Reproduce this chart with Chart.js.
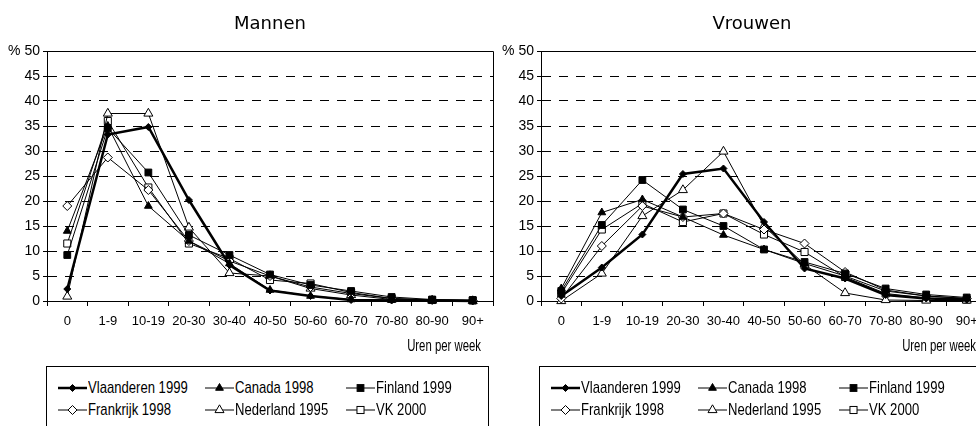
<!DOCTYPE html>
<html lang="nl">
<head>
<meta charset="UTF-8">
<title>Uren per week - Mannen en Vrouwen</title>
<script src="https://cdn.jsdelivr.net/npm/chart.js"></script>
<style>
  body { margin: 0; width: 976px; height: 426px; overflow: hidden; background: #fff; position: relative;
         font-family: 'Liberation Sans Narrow', 'Arial Narrow', 'Liberation Sans', Arial, sans-serif; color: #000; }
  .paneel { position: absolute; top: 0; width: 500px; height: 426px; }
  .paneel canvas { position: absolute; left: 0; top: 0; }
  .titel { position: absolute; top: 12px; width: 200px; text-align: center; font-family: 'DejaVu Sans', Verdana, sans-serif; font-size: 18px; }
  .as-titel { position: absolute; top: 337px; width: 200px; text-align: right; font-size: 16px; transform: scaleX(0.71); transform-origin: right center; }
  .legende { position: absolute; top: 366px; width: 443px; height: 80px; border: 1px solid #000; box-sizing: border-box; }
  .item { position: absolute; display: flex; align-items: center; font-size: 17px; white-space: nowrap; height: 20px; }
  .item svg { margin-right: 1px; }
  .item span { display: inline-block; transform: scaleX(0.77); transform-origin: left center; }
</style>
</head>
<body>
<div class="paneel" style="left:0">
  <canvas id="mannen" width="500" height="360"></canvas>
  <div class="titel" style="left:170px">Mannen</div>
  <div class="as-titel" style="left:281px">Uren per week</div>
  <div class="legende" id="legendeMannen" style="left:46px"></div>
</div>
<div class="paneel" style="left:494px">
  <canvas id="vrouwen" width="500" height="360"></canvas>
  <div class="titel" style="left:158px">Vrouwen</div>
  <div class="as-titel" style="left:282px">Uren per week</div>
  <div class="legende" id="legendeVrouwen" style="left:45px"></div>
</div>
<script>
// categorieën en reeksen
const categorieen = ['0', '1-9', '10-19', '20-30', '30-40', '40-50', '50-60', '60-70', '70-80', '80-90', '90+'];
const reeksen = ['Vlaanderen 1999', 'Canada 1998', 'Finland 1999', 'Frankrijk 1998', 'Nederland 1995', 'VK 2000'];

// Mannen (%)
const mannenVlaanderen = [2.4, 33.3, 34.8, 20.2, 7.2, 2.1, 1.0, 0.2, 0.1, 0.1, 0.0];
const mannenCanada     = [14.0, 35.0, 19.0, 12.0, 7.5, 2.2, 1.0, 0.3, 0.2, 0.1, 0.1];
const mannenFinland    = [9.2, 34.6, 25.7, 13.2, 9.2, 5.3, 3.2, 2.0, 0.8, 0.3, 0.2];
const mannenFrankrijk  = [19.0, 28.7, 22.2, 12.0, 8.0, 5.0, 2.8, 1.5, 0.5, 0.2, 0.1];
const mannenNederland  = [0.9, 37.5, 37.5, 14.7, 5.6, 5.0, 2.5, 1.2, 0.3, 0.1, 0.0];
const mannenVK         = [11.5, 36.0, 22.7, 11.5, 8.5, 4.2, 3.5, 1.7, 0.5, 0.2, 0.1];

// Vrouwen (%)
const vrouwenVlaanderen = [1.0, 6.7, 13.3, 25.4, 26.5, 15.8, 6.5, 4.5, 1.2, 0.5, 0.3];
const vrouwenCanada     = [2.5, 17.7, 20.3, 16.8, 13.2, 10.3, 7.5, 5.0, 2.0, 1.0, 0.5];
const vrouwenFinland    = [2.0, 15.2, 24.2, 18.3, 15.0, 10.3, 7.8, 5.5, 2.5, 1.3, 0.7];
const vrouwenFrankrijk  = [0.5, 11.0, 19.0, 16.8, 17.5, 14.3, 11.5, 5.8, 2.2, 1.0, 0.5];
const vrouwenNederland  = [0.0, 5.5, 17.0, 22.2, 29.9, 15.0, 7.3, 1.6, 0.2, 0.1, 0.1];
const vrouwenVK         = [1.5, 14.3, 19.5, 15.8, 17.5, 13.3, 9.8, 4.8, 1.5, 0.6, 0.3];

const mannen = [mannenVlaanderen, mannenCanada, mannenFinland, mannenFrankrijk, mannenNederland, mannenVK];
const vrouwen = [vrouwenVlaanderen, vrouwenCanada, vrouwenFinland, vrouwenFrankrijk, vrouwenNederland, vrouwenVK];

// opmaak per reeks
const stijlen = [
  { punt: 'rectRot', vul: '#000', r: 3.5, dikte: 2.5 },
  { punt: 'triangle', vul: '#000', r: 4.5, dikte: 1 },
  { punt: 'rect', vul: '#000', r: 4.8, dikte: 1 },
  { punt: 'rectRot', vul: '#fff', r: 4.5, dikte: 1 },
  { punt: 'triangle', vul: '#fff', r: 5.2, dikte: 1 },
  { punt: 'rect', vul: '#fff', r: 5, dikte: 1 }
];

const smal = "'Liberation Sans Narrow', 'Arial Narrow', 'Liberation Sans', Arial, sans-serif";

// bovenste en rechter rand van het plotvlak
const kader = {
  id: 'kader',
  beforeDatasetsDraw(chart) {
    const { ctx, chartArea: a } = chart;
    ctx.save();
    ctx.strokeStyle = '#000';
    ctx.lineWidth = 1;
    ctx.beginPath();
    ctx.moveTo(a.left, a.top + 0.5);
    ctx.lineTo(a.right + 0.5, a.top + 0.5);
    ctx.lineTo(a.right + 0.5, a.bottom);
    ctx.stroke();
    ctx.restore();
  }
};

function maakGrafiek(id, waarden) {
  const datasets = waarden.map((rij, i) => ({
    label: reeksen[i],
    data: rij,
    borderColor: '#000',
    borderWidth: stijlen[i].dikte,
    pointStyle: stijlen[i].punt,
    pointRadius: stijlen[i].r,
    pointBackgroundColor: stijlen[i].vul,
    pointBorderColor: '#000',
    pointBorderWidth: 1,
    tension: 0,
    clip: false
  }));

  new Chart(document.getElementById(id), {
    type: 'line',
    data: { labels: categorieen, datasets: datasets },
    options: {
      responsive: false,
      animation: false,
      layout: { padding: { left: 0, right: 7, top: 51, bottom: 0 } },
      plugins: { legend: { display: false }, tooltip: { enabled: false } },
      scales: {
        x: {
          offset: true,
          grid: { offset: true, drawOnChartArea: false, drawTicks: true, tickLength: 5, tickColor: '#000', color: '#000' },
          border: { color: '#000', width: 1 },
          ticks: { color: '#000', font: { family: smal, size: 13 }, padding: 8, maxRotation: 0, autoSkip: false },
          afterFit(scale) { scale.height = 59; }
        },
        y: {
          min: 0,
          max: 50,
          ticks: {
            stepSize: 5,
            color: '#000',
            padding: 3,
            font: { family: smal, size: 14 },
            callback: v => v === 50 ? '% 50' : v
          },
          grid: { color: '#000', lineWidth: 1, drawTicks: true, tickLength: 4, tickColor: '#000' },
          border: { color: '#000', width: 1, dash: [9, 8] },
          afterFit(scale) { scale.width = 47; }
        }
      }
    },
    plugins: [kader]
  });
}

function maakLegende(id) {
  const box = document.getElementById(id);
  const kolommen = [11, 158, 299];
  reeksen.forEach((naam, i) => {
    const s = stijlen[i];
    let teken = '';
    const f = s.vul, cx = 14.5, cy = 6;
    if (s.punt === 'rectRot') {
      const r = s.r;
      teken = `<polygon points="${cx - r},${cy} ${cx},${cy - r} ${cx + r},${cy} ${cx},${cy + r}" fill="${f}" stroke="#000"/>`;
    } else if (s.punt === 'triangle') {
      const r = s.r;
      teken = `<polygon points="${cx},${cy - r} ${cx + r * 0.866},${cy + r / 2} ${cx - r * 0.866},${cy + r / 2}" fill="${f}" stroke="#000"/>`;
    } else {
      const h = s.r * 0.707;
      teken = `<rect x="${cx - h}" y="${cy - h}" width="${2 * h}" height="${2 * h}" fill="${f}" stroke="#000"/>`;
    }
    const el = document.createElement('div');
    el.className = 'item';
    el.style.left = kolommen[i % 3] + 'px';
    el.style.top = (i < 3 ? 11 : 33) + 'px';
    el.innerHTML = `<svg width="29" height="12"><line x1="0" y1="6" x2="29" y2="6" stroke="#000" stroke-width="${s.dikte}"/>${teken}</svg><span>${naam}</span>`;
    box.appendChild(el);
  });
}

maakGrafiek('mannen', mannen);
maakGrafiek('vrouwen', vrouwen);
maakLegende('legendeMannen');
maakLegende('legendeVrouwen');
</script>
</body>
</html>
